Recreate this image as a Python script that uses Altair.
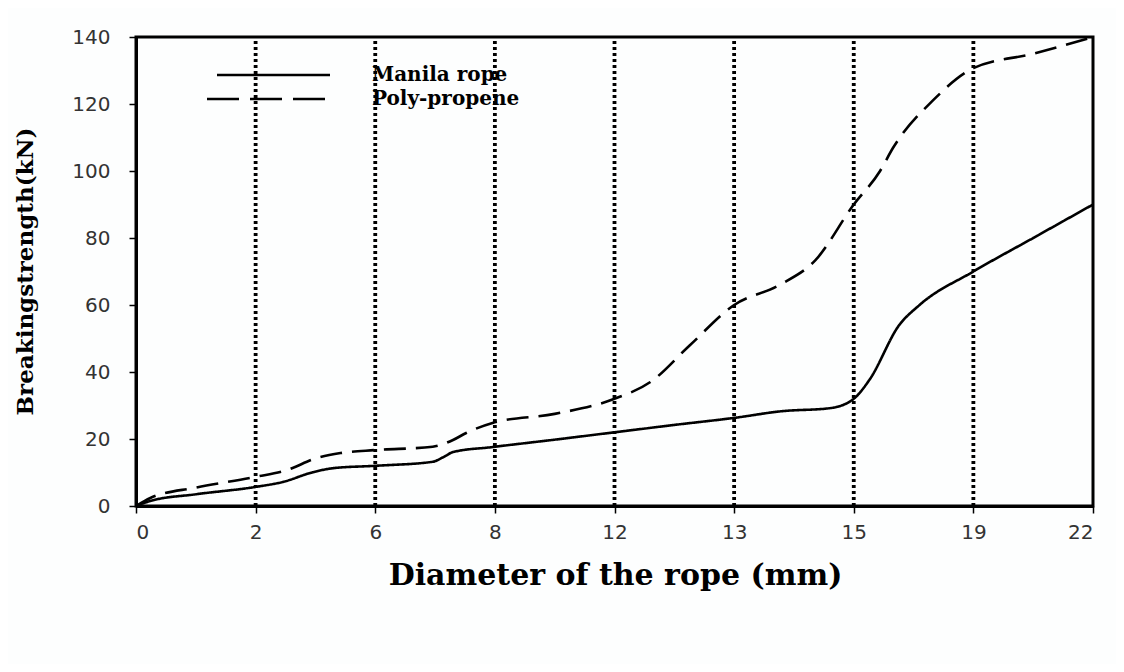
import altair as alt
import pandas as pd

mm_labels = ["0", "2", "6", "8", "12", "13", "15", "19", "22"]
series_names = ["Manila rope", "Poly-propene"]
y_ticks = [0, 20, 40, 60, 80, 100, 120, 140]

# positions are category indices along the diameter axis (0..8)
manila_pos = [0, 0.12, 0.5, 1.0, 1.23, 1.48, 1.65, 2.0, 2.48, 2.57, 2.65, 2.98, 3.5, 4.0,
              4.5, 5.0, 5.4, 5.8, 6.0, 6.13, 6.38, 6.55, 7.0, 7.5, 8.0]
manila_val = [0, 1.5, 3.5, 5.7, 7.2, 10.1, 11.3, 12.0, 13.2, 14.6, 16.1, 17.6, 19.8, 22.0,
              24.2, 26.3, 28.3, 29.2, 32.0, 37.6, 54.0, 60.0, 70.0, 80.0, 90.0]

poly_pos = [0, 0.12, 0.5, 1.0, 1.26, 1.51, 1.71, 2.0, 2.48, 2.65, 2.76, 2.98, 3.5, 4.0,
            4.3, 4.63, 5.0, 5.38, 5.68, 6.0, 6.22, 6.33, 6.66, 7.0, 7.5, 8.0]
poly_val = [0, 2.4, 5.5, 8.7, 10.7, 14.3, 15.8, 16.7, 17.7, 19.7, 21.8, 24.8, 27.5, 32.0,
            37.0, 48.0, 60.0, 66.0, 73.4, 90.0, 100.0, 107.0, 121.0, 130.7, 135.0, 140.0]

rule_pos = list(range(1, len(mm_labels) - 1))

df = pd.concat([
    pd.DataFrame({"pos": manila_pos, "value": manila_val, "series": series_names[0]}),
    pd.DataFrame({"pos": poly_pos, "value": poly_val, "series": series_names[1]}),
])
rules_df = pd.DataFrame({"pos": rule_pos})

label_expr = "[" + ",".join("'%s'" % s for s in mm_labels) + "][datum.value]"

x_scale = alt.Scale(domain=[0, len(mm_labels) - 1], nice=False)
y_scale = alt.Scale(domain=[0, 140], nice=False)

x_axis = alt.Axis(
    values=list(range(len(mm_labels))), labelExpr=label_expr,
    title="Diameter of the rope (mm)", grid=False,
    domainColor="black", domainWidth=3, tickColor="black", tickSize=7, tickWidth=1.5,
    labelFont="DejaVu Sans", labelFontSize=20, labelColor="#333", labelPadding=9,
    titleFont="DejaVu Serif", titleFontSize=30, titleFontWeight="bold", titleColor="black",
    titleX=479, titleY=78, titleBaseline="alphabetic", titleAlign="center",
)
y_axis = alt.Axis(
    values=y_ticks, title="Breakingstrength(kN)", grid=False,
    domainColor="black", domainWidth=3, tickColor="black", tickSize=7, tickWidth=1.5,
    labelFont="DejaVu Sans", labelFontSize=20, labelColor="#333", labelPadding=19,
    titleFont="DejaVu Serif", titleFontSize=23, titleFontWeight="bold", titleColor="black",
    titleX=-111, titleY=234, titleBaseline="middle", titleAlign="center", titleAngle=-90,
)

rules = alt.Chart(rules_df).mark_rule(
    color="black", strokeWidth=3.8, strokeDash=[3, 3]
).encode(
    x=alt.X("pos:Q", scale=x_scale, axis=x_axis),
    y=alt.Y(datum=0, type="quantitative", scale=y_scale, axis=y_axis),
    y2=alt.Y2(datum=139),
)

lines = alt.Chart(df).mark_line(
    color="black", strokeWidth=2.6, interpolate="monotone"
).encode(
    x=alt.X("pos:Q", scale=x_scale, axis=x_axis),
    y=alt.Y("value:Q", scale=y_scale, axis=y_axis),
    strokeDash=alt.StrokeDash(
        "series:N",
        scale=alt.Scale(domain=series_names, range=[[1, 0], [22, 10]]),
        legend=None,
    ),
    detail="series:N",
)

leg_a = pd.DataFrame({"series": [series_names[0]]})
leg_b = pd.DataFrame({"series": [series_names[1]]})

leg_line_a = alt.Chart(leg_a).mark_rule(color="black", strokeWidth=2.6).encode(
    x=alt.value(81), x2=alt.value(194), y=alt.value(38))
leg_line_b = alt.Chart(leg_b).mark_rule(color="black", strokeWidth=2.6, strokeDash=[32, 11]).encode(
    x=alt.value(71), x2=alt.value(190), y=alt.value(62))

text_kw = dict(align="left", baseline="middle", font="DejaVu Serif", fontWeight="bold",
               fontSize=20, color="black")
leg_text_a = alt.Chart(leg_a).mark_text(**text_kw).encode(
    x=alt.value(236), y=alt.value(38), text="series:N")
leg_text_b = alt.Chart(leg_b).mark_text(**text_kw).encode(
    x=alt.value(236), y=alt.value(62), text="series:N")

chart = alt.layer(
    rules, lines, leg_line_a, leg_line_b, leg_text_a, leg_text_b
).properties(
    width=957, height=469,
    autosize=alt.AutoSizeParams(type="none"),
    padding={"left": 128, "top": 29, "right": 23, "bottom": 158},
    background="#fdfefe",
).configure_view(stroke="black", strokeWidth=3)

chart.save("out.html", embed_options={"renderer": "svg", "actions": False})
